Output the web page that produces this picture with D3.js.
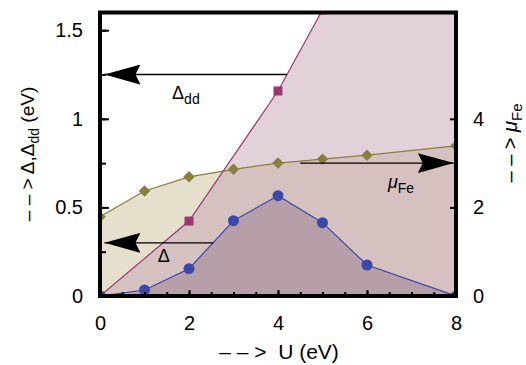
<!DOCTYPE html>
<html>
<head>
<meta charset="utf-8">
<script src="https://cdn.jsdelivr.net/npm/d3@7"></script>
<style>
  body { margin: 0; background: #fff; }
  svg text { font-family: "Liberation Sans", Arial, sans-serif; fill: #000; white-space: pre; }
</style>
</head>
<body>
<div id="chart"></div>
<script>
// Data
const uValues = [0, 1, 2, 3, 4, 5, 6, 8];
const deltaVals = [0, 0.034, 0.154, 0.425, 0.566, 0.414, 0.175, 0];
const ddU = [0, 2, 4, 5, 6, 8];
const deltaDdVals = [0, 0.423, 1.157, 1.615, 2.05, 2.9];
const muVals = [1.79, 2.37, 2.69, 2.86, 3.0, 3.09, 3.18, 3.39];
const xTicks = [0, 2, 4, 6, 8];
const leftTicks = [0, 0.5, 1, 1.5];
const rightTicks = [0, 2, 4];

const W = 526, H = 365;
const margin = { top: 12.5, right: 70, bottom: 69, left: 100 };
const width = 456 - margin.left,
      height = 296 - margin.top;

const svg = d3.select("#chart").append("svg")
    .attr("width", W).attr("height", H);

const g = svg.append("g")
    .attr("transform", `translate(${margin.left},${margin.top})`);

// Scales
const x = d3.scaleLinear().domain([0, 8]).range([0, width]);
const y = d3.scaleLinear().domain([0, 1.6]).range([height, 0]);
const y2 = d3.scaleLinear().domain([0, 6.4]).range([height, 0]);

// Clip to plot area
svg.append("defs").append("clipPath").attr("id", "plotclip")
  .append("rect").attr("width", width).attr("height", height);

const plot = g.append("g").attr("clip-path", "url(#plotclip)");

const delta = uValues.map((u, i) => ({ u, v: deltaVals[i] }));
const deltaDd = ddU.map((u, i) => ({ u, v: deltaDdVals[i] }));
const mu = uValues.map((u, i) => ({ u, v: muVals[i] }));

// Filled areas
plot.append("path").datum(mu)
    .attr("fill", "rgb(203,191,153)").attr("fill-opacity", 0.5)
    .attr("d", d3.area().x(d => x(d.u)).y0(height).y1(d => y2(d.v)));
plot.append("path").datum(deltaDd)
    .attr("fill", "rgb(199,163,181)").attr("fill-opacity", 0.5)
    .attr("d", d3.area().x(d => x(d.u)).y0(height).y1(d => y(d.v)));
plot.append("path").datum(delta)
    .attr("fill", "rgb(150,126,146)").attr("fill-opacity", 0.5)
    .attr("d", d3.area().x(d => x(d.u)).y0(height).y1(d => y(d.v)));

// Lines
const olive = "#8a7f3e", magenta = "#963a6f", blue = "#3a48a8";
plot.append("path").datum(mu).attr("fill", "none").attr("stroke", olive).attr("stroke-width", 1.2)
    .attr("d", d3.line().x(d => x(d.u)).y(d => y2(d.v)));
plot.append("path").datum(deltaDd).attr("fill", "none").attr("stroke", magenta).attr("stroke-width", 1.2)
    .attr("d", d3.line().x(d => x(d.u)).y(d => y(d.v)));
plot.append("path").datum(delta).attr("fill", "none").attr("stroke", blue).attr("stroke-width", 1.2)
    .attr("d", d3.line().x(d => x(d.u)).y(d => y(d.v)));

// Markers
plot.selectAll(".dia").data(mu).enter().append("path")
    .attr("d", d3.symbol().type(d3.symbolSquare).size(66))
    .attr("transform", d => `translate(${x(d.u)},${y2(d.v)}) rotate(45)`)
    .attr("fill", olive);
plot.selectAll(".sq").data(deltaDd).enter().append("rect")
    .attr("x", d => x(d.u) - 4.5).attr("y", d => y(d.v) - 4.5)
    .attr("width", 9).attr("height", 9).attr("fill", magenta);
plot.selectAll(".dot").data(delta).enter().append("circle")
    .attr("cx", d => x(d.u)).attr("cy", d => y(d.v)).attr("r", 5.5)
    .attr("fill", blue);

// Axes
const fs = "20px";
function style(sel) {
  sel.select(".domain").remove();
  sel.selectAll("line").attr("stroke", "#000").attr("stroke-width", 2);
  sel.selectAll("text").style("font-size", fs);
}
g.append("g").attr("transform", `translate(0,${height})`)
  .call(d3.axisBottom(x).tickValues(d3.range(0, 8.01, 0.5)).tickSize(-4).tickFormat(""))
  .call(style);
g.append("g").attr("transform", `translate(0,${height})`)
  .call(d3.axisBottom(x).tickValues(xTicks).tickSize(-6).tickPadding(20).tickFormat(d3.format("d")))
  .call(style);
g.append("g")
  .call(d3.axisLeft(y).tickValues(d3.range(0, 1.6, 0.25)).tickSize(-6).tickFormat(""))
  .call(style);
g.append("g")
  .call(d3.axisLeft(y).tickValues(leftTicks).tickSize(-9).tickPadding(17).tickFormat(d => d))
  .call(style);
g.append("g").attr("transform", `translate(${width},0)`)
  .call(d3.axisRight(y2).tickValues(rightTicks).tickSize(-6).tickPadding(17).tickFormat(d3.format("d")))
  .call(style);

// Frame
g.append("rect").attr("width", width).attr("height", height)
    .attr("fill", "none").attr("stroke", "#000").attr("stroke-width", 4);

// Arrows
svg.append("defs").append("marker")
    .attr("id", "head").attr("viewBox", "0 0 36 20")
    .attr("refX", 36).attr("refY", 10)
    .attr("markerWidth", 36).attr("markerHeight", 20)
    .attr("markerUnits", "userSpaceOnUse").attr("orient", "auto")
  .append("path").attr("d", "M36,10 L0,0 L5,10 L0,20 Z").attr("fill", "#000");

const arrows = [
  { from: 4.2, to: 0.1, yv: 1.25, scale: y },
  { from: 2.55, to: 0.1, yv: 0.3, scale: y },
  { from: 4.5, to: 7.95, yv: 3.0, scale: y2 }
];
g.selectAll(".arrow").data(arrows).enter().append("line")
    .attr("x1", d => x(d.from)).attr("x2", d => x(d.to))
    .attr("y1", d => d.scale(d.yv)).attr("y2", d => d.scale(d.yv))
    .attr("stroke", "#000").attr("stroke-width", 1.3)
    .attr("marker-end", "url(#head)");

// Labels on arrows
const lbl1 = g.append("text").attr("x", x(1.62)).attr("y", y(1.11)).style("font-size", "18px");
lbl1.append("tspan").text("Δ");
lbl1.append("tspan").attr("dy", 5).style("font-size", "14px").text("dd");

g.append("text").attr("x", x(1.3)).attr("y", y(0.19)).style("font-size", "18px").text("Δ");

const lbl3 = g.append("text").attr("x", x(6.47)).attr("y", y2(2.44)).style("font-size", "18px");
lbl3.append("tspan").style("font-style", "italic").text("μ");
lbl3.append("tspan").attr("dy", 5).style("font-size", "14px").text("Fe");

// Axis titles
svg.append("text").attr("x", 279).attr("y", 359)
    .attr("text-anchor", "middle").style("font-size", "21px")
    .text("– – >  U (eV)");

const lt = svg.append("text")
    .attr("transform", "translate(34,154) rotate(-90)")
    .attr("text-anchor", "middle").style("font-size", "19px");
lt.append("tspan").text("– – > Δ,Δ");
lt.append("tspan").attr("dy", 5).style("font-size", "14px").text("dd");
lt.append("tspan").attr("dy", -5).text(" (eV)");

const rt = svg.append("text")
    .attr("transform", "translate(517,143) rotate(-90)")
    .attr("text-anchor", "middle").style("font-size", "20px");
rt.append("tspan").text("– – > ");
rt.append("tspan").style("font-style", "italic").text("μ");
rt.append("tspan").attr("dy", 5).style("font-size", "15px").text("Fe");
</script>
</body>
</html>
